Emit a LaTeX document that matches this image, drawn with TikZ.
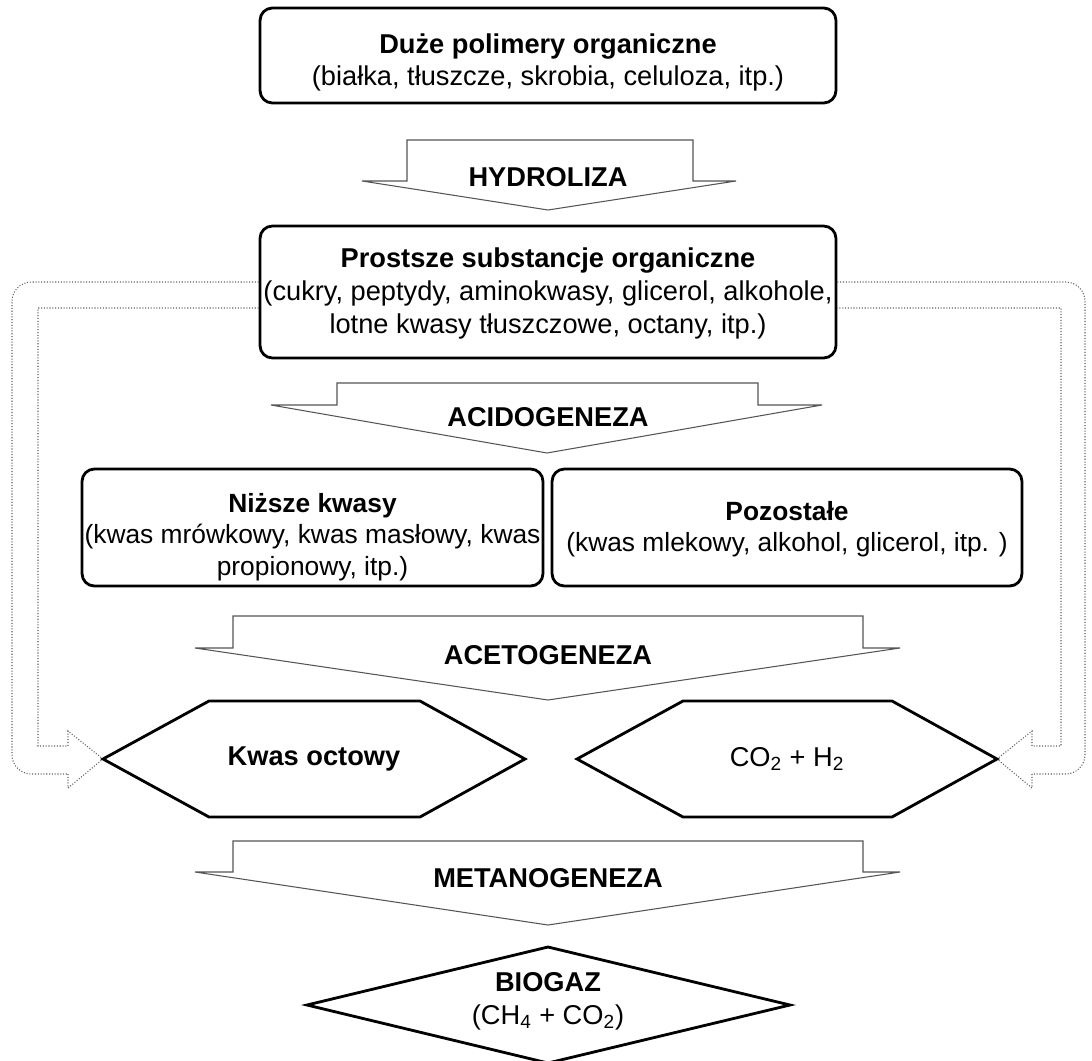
\documentclass[tikz,border=0pt]{standalone}
\usepackage{fontspec}
\setmainfont{Liberation Sans}
\usepackage{tikz}
\usetikzlibrary{positioning, calc}
\definecolor{flowgray}{RGB}{85, 85, 85}
\definecolor{loopgray}{RGB}{95, 95, 95}

\begin{document}
\begin{tikzpicture}[
    x=0.02cm, y=-0.02cm,
    font=\fontsize{15.5}{18.7}\selectfont,
    stagebox/.style={draw, line width=1.6pt, rounded corners=7pt, inner sep=0pt},
    stagetext/.style={align=center, inner sep=0pt},
    hexbox/.style={draw, line width=1.6pt, fill=white},
    flowarrow/.style={draw=flowgray, line width=0.6pt, fill=white},
    looparrow/.style={draw=loopgray, densely dotted, line width=0.6pt},
    steplabel/.style={font=\fontsize{15.5}{18.7}\selectfont\bfseries},
]
\useasboundingbox (0,0) rectangle (1092,1061);

% --- Substrates (two upper boxes) ---
\node[stagebox, minimum width=11.52cm, minimum height=1.9cm] (polimery) at (548,55.5) {};
\node[stagetext, yshift=-4pt] (polimerytxt) at (polimery)
    {\textbf{Duże polimery organiczne}\\(białka, tłuszcze, skrobia, celuloza, itp.)};
\node[stagebox, minimum width=11.52cm, minimum height=2.64cm] (prostsze) at (548,292) {};
\node[stagetext, yshift=-1pt] (prostszetxt) at (prostsze)
    {\textbf{Prostsze substancje organiczne}\\(cukry, peptydy, aminokwasy, glicerol, alkohole,\\lotne kwasy tłuszczowe, octany, itp.)};

% --- Hydrolysis step ---
\draw[flowarrow] (407,140) -- (693,140) -- (693,181) -- (736,181) -- (548,210) -- (362,181) -- (407,181) -- cycle;
\node[steplabel] (hydro) at (548,177) {HYDROLIZA};

% --- Side loops: prostsze -> hexagons (drawn first, hexagons on top) ---
\draw[looparrow, rounded corners=11pt] (prostsze.west |- 0,282) -- (12,282) -- (12,774) -- (68,774);
\draw[looparrow] (68,774) -- (68,788) -- (103,759) -- (68,731) -- (68,746) -- (38,746) -- (38,308) -- (prostsze.west |- 0,308);
\draw[looparrow, rounded corners=11pt] (prostsze.east |- 0,282) -- (1085,282) -- (1085,774) -- (1032,774);
\draw[looparrow] (1032,774) -- (1032,788) -- (997,759) -- (1032,731) -- (1032,746) -- (1061,746) -- (1061,308) -- (prostsze.east |- 0,308);

% --- Acidogenesis step ---
\draw[flowarrow] (337,383) -- (758,383) -- (758,405) -- (822,405) -- (547,453) -- (271,405) -- (337,405) -- cycle;
\node[steplabel] (acido) at (548,417) {ACIDOGENEZA};

% --- Intermediate products ---
\node[stagebox, minimum width=9.22cm, minimum height=2.34cm] (nizsze) at (312.5,527.5) {};
\node[stagetext, yshift=-5.5pt, font=\fontsize{15}{18}\selectfont] (nizszetxt) at (nizsze)
    {\textbf{Niższe kwasy}\\(kwas mrówkowy, kwas masłowy, kwas\\propionowy, itp.)};
\node[stagebox, minimum width=9.4cm, minimum height=2.34cm] (pozostale) at (787,527.5) {};
\node[stagetext, yshift=-1pt, font=\fontsize{15}{18}\selectfont] (pozostaletxt) at (pozostale)
    {\textbf{Pozostałe}\\(kwas mlekowy, alkohol, glicerol, itp. )};

% --- Acetogenesis step ---
\draw[flowarrow] (233,616) -- (863,616) -- (863,648) -- (900,648) -- (548,700) -- (195,648) -- (233,648) -- cycle;
\node[steplabel] (aceto) at (548,655) {ACETOGENEZA};

% --- Hexagons ---
\draw[hexbox] (103,759) -- (209,701) -- (420,701) -- (525,759) -- (420,817) -- (209,817) -- cycle;
\node[steplabel] (octowy) at (314,759) {Kwas octowy};
\draw[hexbox] (577,759) -- (683,701) -- (892,701) -- (997,759) -- (892,817) -- (683,817) -- cycle;
\node (gazy) at (787,759) {CO\textsubscript{2} + H\textsubscript{2}};

% --- Methanogenesis step ---
\draw[flowarrow] (233,841) -- (863,841) -- (863,872) -- (900,872) -- (548,925) -- (195,872) -- (233,872) -- cycle;
\node[steplabel] (metano) at (548,878) {METANOGENEZA};

% --- Final product ---
\draw[hexbox] (307,1005) -- (548,947) -- (790,1005) -- (548,1063) -- cycle;
\node[stagetext] (biogaz) at (548,1001) {\textbf{BIOGAZ}\\(CH\textsubscript{4} + CO\textsubscript{2})};

\end{tikzpicture}
\end{document}
